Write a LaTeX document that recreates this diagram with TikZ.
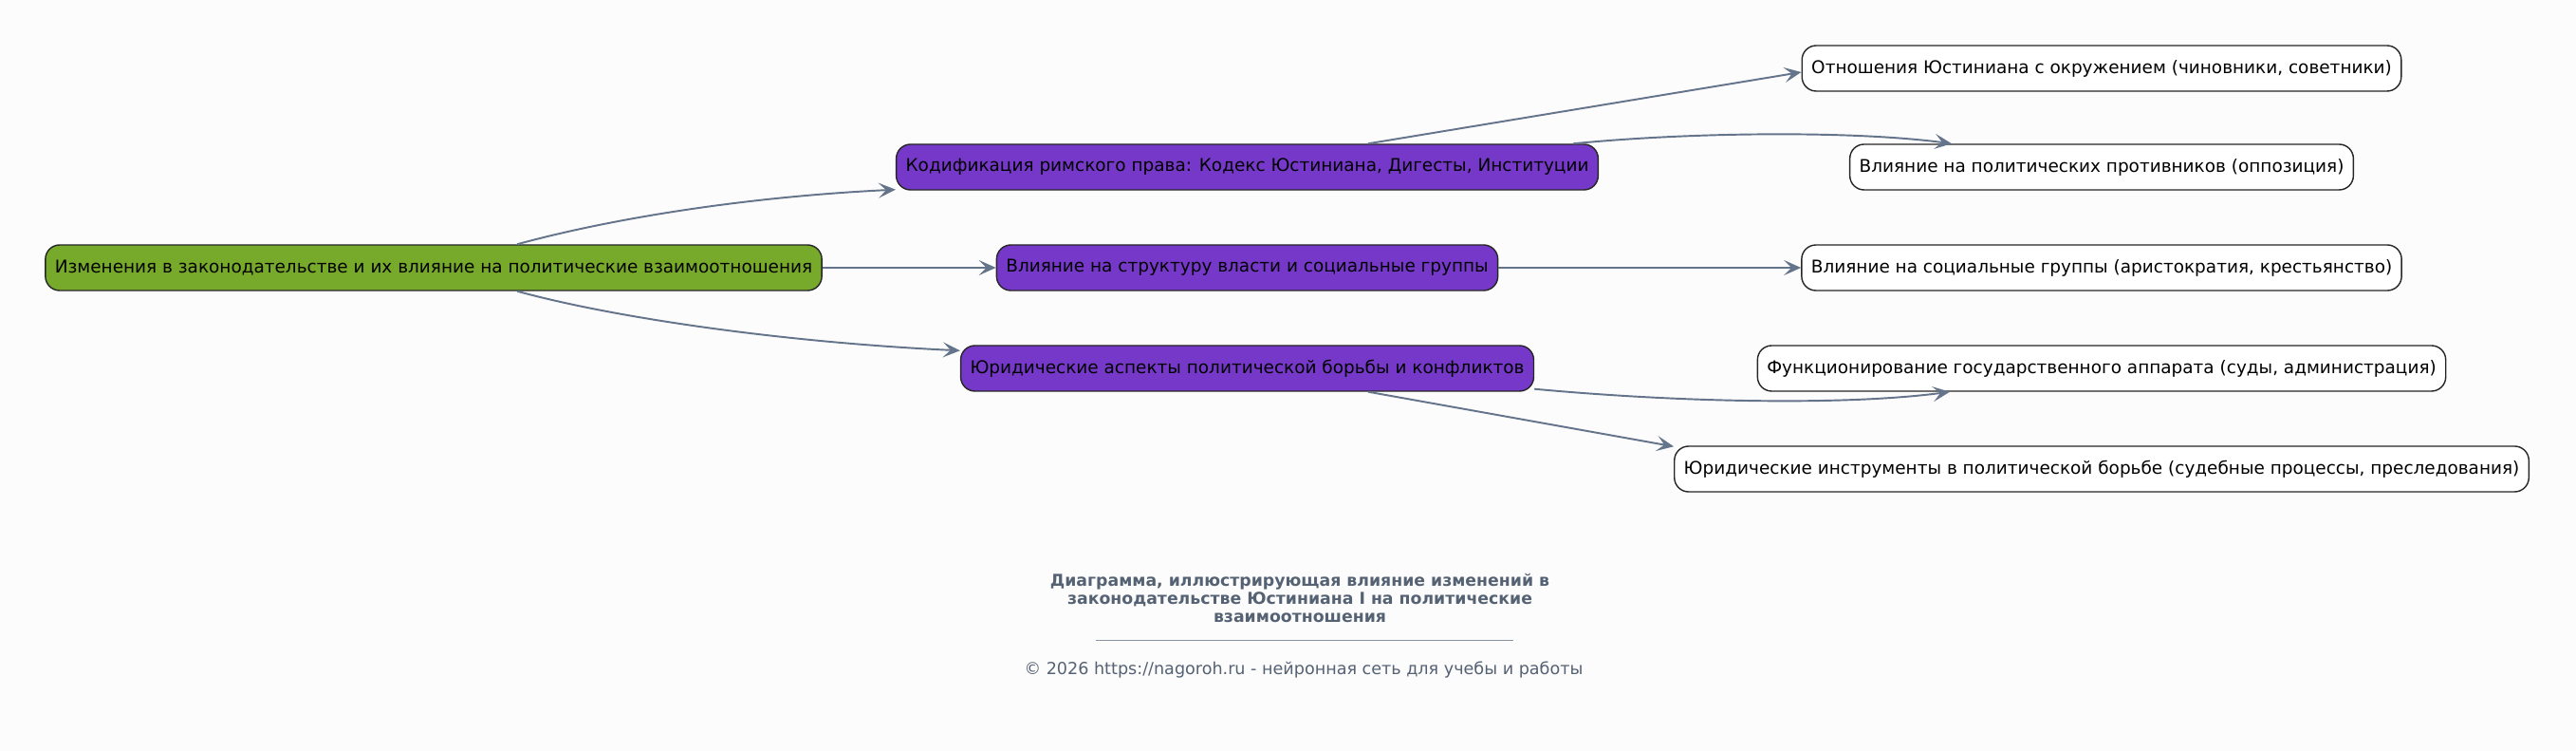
\documentclass[tikz,border=0pt]{standalone}
\usepackage{fontspec}
\setmainfont{DejaVu Sans}
\usetikzlibrary{arrows.meta}

\definecolor{rootgreen}{HTML}{77AA2B}
\definecolor{branchpurple}{HTML}{7638C8}
\definecolor{linkgray}{HTML}{64748B}
\definecolor{titlegray}{HTML}{556274}
\definecolor{paper}{HTML}{FCFCFC}

\tikzstyle{root_node}=[rectangle,rounded corners=0.3cm,draw=black!85,fill=rootgreen,line width=0.8pt,minimum height=0.96cm,inner xsep=0.2cm,font=\fontsize{10.5}{12.5}\selectfont]
\tikzstyle{branch_node}=[rectangle,rounded corners=0.3cm,draw=black!85,fill=branchpurple,line width=0.8pt,minimum height=0.96cm,inner xsep=0.2cm,font=\fontsize{10.5}{12.5}\selectfont]
\tikzstyle{leaf_node}=[rectangle,rounded corners=0.3cm,draw=black!85,fill=white,line width=0.8pt,minimum height=0.96cm,inner xsep=0.2cm,font=\fontsize{10.5}{12.5}\selectfont]
\tikzstyle{link}=[linkgray,line width=1.1pt,-{Stealth[length=0.36cm,width=0.32cm,inset=0.16cm]}]

\begin{document}
\begin{tikzpicture}

\fill[paper] (0,0) rectangle (54.3,15.82);
\useasboundingbox (0,0) rectangle (54.3,15.82);

\node [root_node] (node00) at (9.14,10.18) {Изменения в законодательстве и их влияние на политические взаимоотношения};

\node [branch_node] (node11) at (26.29,12.30) {Кодификация римского права: Кодекс Юстиниана, Дигесты, Институции};
\node [branch_node] (node12) at (26.29,10.18) {Влияние на структуру власти и социальные группы};
\node [branch_node] (node13) at (26.29,8.06) {Юридические аспекты политической борьбы и конфликтов};

\node [leaf_node] (node21) at (44.30,14.38) {Отношения Юстиниана с окружением (чиновники, советники)};
\node [leaf_node] (node22) at (44.30,12.30) {Влияние на политических противников (оппозиция)};
\node [leaf_node] (node23) at (44.30,10.18) {Влияние на социальные группы (аристократия, крестьянство)};
\node [leaf_node] (node24) at (44.30,8.06) {Функционирование государственного аппарата (суды, администрация)};
\node [leaf_node] (node25) at (44.30,5.94) {Юридические инструменты в политической борьбе (судебные процессы, преследования)};

\node[text=titlegray,font=\bfseries\fontsize{9.85}{10.8}\selectfont,align=center] (title) at (27.4,3.22) {Диаграмма, иллюстрирующая влияние изменений в\\законодательстве Юстиниана I на политические\\взаимоотношения};
\node[text=titlegray,font=\fontsize{10}{12}\selectfont] (copy) at (27.48,1.70) {© 2026 https://nagoroh.ru - нейронная сеть для учебы и работы};
\draw[titlegray!70,line width=0.5pt] (23.1,2.34) -- (31.9,2.34);

\draw[link] ([xshift=1.76cm]node00.north) .. controls +(1.9,0.52) and +(-3.28,-0.16) .. ([yshift=0.02cm]node11.south west);

\draw[link] (node00.east) -- (node12.west);

\draw[link] ([xshift=1.76cm]node00.south) .. controls +(2.0,-0.55) and +(-3.8,0.18) .. ([yshift=-0.12cm]node13.north west);

\draw[link] ([xshift=2.55cm]node11.north) -- ([yshift=-0.08cm]node21.west);

\draw[link] ([xshift=-0.54cm]node11.north east) .. controls +(2.44,0.24) and +(-2.14,0.28) .. ([xshift=-3.16cm]node22.north);

\draw[link] (node12.east) -- (node23.west);

\draw[link] ([yshift=0.06cm]node13.south east) .. controls +(3.24,-0.30) and +(-2.1,-0.28) .. ([xshift=-3.2cm]node24.south);

\draw[link] ([xshift=2.55cm]node13.south) -- ([yshift=-0.02cm]node25.north west);

\end{tikzpicture}
\end{document}
